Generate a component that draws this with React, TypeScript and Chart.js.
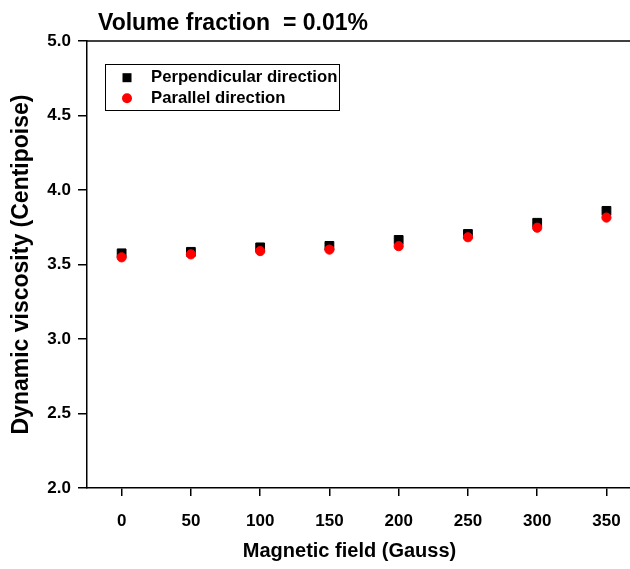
import React, { useEffect, useRef } from "react";
import { Chart, registerables } from "chart.js";

Chart.register(...registerables);

const fieldGauss = [0, 50, 100, 150, 200, 250, 300, 350];
const perpendicular = [3.575, 3.585, 3.615, 3.625, 3.665, 3.705, 3.78, 3.86];
const parallel = [3.548, 3.568, 3.59, 3.6, 3.623, 3.683, 3.747, 3.815];
const xTicks = [0, 50, 100, 150, 200, 250, 300, 350];
const yTicks = [2.0, 2.5, 3.0, 3.5, 4.0, 4.5, 5.0];
const seriesLabels = ["Perpendicular direction", "Parallel direction"];
const seriesColors = ["#000000", "#ff0000"];
const chartTitle = "Volume fraction  = 0.01%";
const xTitle = "Magnetic field (Gauss)";
const yTitle = "Dynamic viscosity (Centipoise)";

const FAMILY = '"Liberation Sans", Arial, sans-serif';

const decorPlugin = {
  id: "decor",
  afterDraw(chart: any) {
    const { ctx, chartArea: a } = chart;
    ctx.save();
    // top frame line
    ctx.strokeStyle = "#000";
    ctx.lineWidth = 1.5;
    ctx.beginPath();
    ctx.moveTo(a.left, a.top);
    ctx.lineTo(a.right, a.top);
    ctx.stroke();

    // title
    ctx.fillStyle = "#000";
    ctx.font = `bold 23px ${FAMILY}`;
    ctx.textAlign = "left";
    ctx.textBaseline = "alphabetic";
    ctx.fillText(chartTitle, a.left + 11, a.top - 11);

    // x axis title
    ctx.font = `bold 20px ${FAMILY}`;
    ctx.textAlign = "center";
    ctx.textBaseline = "middle";
    ctx.fillText(xTitle, (a.left + a.right) / 2 - 9, a.bottom + 63);

    // legend box
    const bx = a.left + 18;
    const by = a.top + 23;
    const bw = 234;
    const bh = 46;
    ctx.lineWidth = 1;
    ctx.strokeStyle = "#000";
    ctx.strokeRect(Math.round(bx) + 0.5, Math.round(by) + 0.5, bw, bh);
    const rows = [by + 13.7, by + 34.3];
    chart.data.datasets.forEach((ds: any, i: number) => {
      const cy = rows[i];
      const cx = bx + 22;
      ctx.fillStyle = ds.backgroundColor;
      if (ds.pointStyle === "rect") {
        ctx.fillRect(cx - 4.5, cy - 4.5, 9, 9);
      } else {
        ctx.beginPath();
        ctx.arc(cx, cy, 5, 0, Math.PI * 2);
        ctx.fill();
      }
      ctx.fillStyle = "#000";
      ctx.font = `bold 16.7px ${FAMILY}`;
      ctx.textAlign = "left";
      ctx.textBaseline = "middle";
      ctx.fillText(ds.label, bx + 46, cy);
    });
    ctx.restore();
  },
};

export default function App() {
  const ref = useRef<HTMLCanvasElement>(null);

  useEffect(() => {
    if (!ref.current) return;
    const chart = new Chart(ref.current, {
      type: "scatter",
      data: {
        datasets: [
          {
            label: seriesLabels[0],
            data: fieldGauss.map((x, i) => ({ x, y: perpendicular[i] })),
            pointStyle: "rect",
            pointRadius: 6.2,
            borderWidth: 1,
            backgroundColor: seriesColors[0],
            borderColor: seriesColors[0],
            order: 2,
          },
          {
            label: seriesLabels[1],
            data: fieldGauss.map((x, i) => ({ x, y: parallel[i] })),
            pointStyle: "circle",
            pointRadius: 4.6,
            borderWidth: 1,
            backgroundColor: seriesColors[1],
            borderColor: seriesColors[1],
            order: 1,
          },
        ],
      },
      options: {
        responsive: false,
        animation: false,
        layout: { autoPadding: false, padding: { top: 41, left: 0, right: 0, bottom: 0 } },
        plugins: {
          legend: { display: false },
          tooltip: { enabled: false },
          title: { display: false },
        },
        scales: {
          x: {
            type: "linear",
            min: -25,
            max: 367,
            afterBuildTicks: (scale: any) => {
              scale.ticks = xTicks.map((v) => ({ value: v }));
            },
            afterFit: (scale: any) => {
              scale.height = 81;
              scale.paddingLeft = 0;
              scale.paddingRight = 0;
            },
            grid: {
              display: true,
              drawOnChartArea: false,
              drawTicks: true,
              tickLength: 8,
              color: "#000",
              lineWidth: 1.5,
            },
            border: { display: true, color: "#000", width: 1.5 },
            ticks: {
              color: "#000",
              padding: 15,
              font: { family: FAMILY, size: 17, weight: "bold" },
              callback: (v: any) => String(v),
            },
            title: { display: false },
          },
          y: {
            type: "linear",
            min: 2,
            max: 5,
            afterBuildTicks: (scale: any) => {
              scale.ticks = yTicks.map((v) => ({ value: v }));
            },
            afterFit: (scale: any) => {
              scale.width = 87;
              scale.paddingTop = 0;
              scale.paddingBottom = 0;
            },
            grid: {
              display: true,
              drawOnChartArea: false,
              drawTicks: true,
              tickLength: 9,
              color: "#000",
              lineWidth: 1.5,
            },
            border: { display: true, color: "#000", width: 1.5 },
            ticks: {
              color: "#000",
              padding: 7,
              font: { family: FAMILY, size: 17, weight: "bold" },
              callback: (v: any) => Number(v).toFixed(1),
            },
            title: {
              display: true,
              text: yTitle,
              color: "#000",
              font: { family: FAMILY, size: 23, weight: "bold" },
              padding: { top: 8, bottom: 0 },
            },
          },
        },
      },
      plugins: [decorPlugin],
    });
    return () => chart.destroy();
  }, []);

  return (
    <div style={{ position: "absolute", left: 0, top: 0, width: 630, height: 569, background: "#fff" }}>
      <canvas ref={ref} width={630} height={569} />
    </div>
  );
}
